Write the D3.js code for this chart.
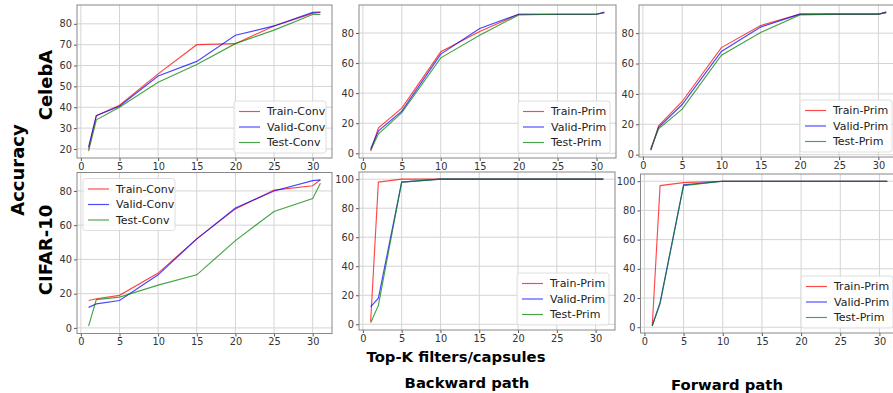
<!DOCTYPE html>
<html>
<head>
<meta charset="utf-8">
<script src="https://cdn.jsdelivr.net/npm/d3@7"></script>
<style>
  html, body { margin: 0; padding: 0; background: #fff; }
  svg text { font-family: "DejaVu Sans", sans-serif; }
</style>
</head>
<body>
<svg id="chart" width="893" height="393"></svg>
<script>
// ── Data ────────────────────────────────────────────────
const topK = [1, 2, 5, 10, 15, 20, 25, 30, 31];

const celebaConvTrain = [20, 36, 41, 56, 70, 70.5, 79, 85, 85.5];
const celebaConvValid = [21, 36, 40.5, 55, 62, 74.5, 79, 85.5, 85.7];
const celebaConvTest  = [19, 34, 40, 52, 60.5, 70.5, 77, 84.5, 84.5];

const celebaBackTrain = [1.5, 17, 30, 67.5, 81, 92.5, 92.5, 92.5, 93.5];
const celebaBackValid = [3, 15, 28, 66, 83, 92.5, 92.5, 92.5, 94];
const celebaBackTest  = [2, 13, 27, 63.5, 78.5, 92, 92.5, 92.5, 93.5];

const celebaFwdTrain = [3, 19, 35, 70.5, 85, 92.5, 92.5, 92.5, 93.5];
const celebaFwdValid = [3, 18, 33, 68, 84, 92.5, 92.5, 92.5, 94];
const celebaFwdTest  = [4, 17, 30, 65.5, 80.5, 92, 92.5, 92.5, 93.5];

const cifarConvTrain = [16, 17, 19, 32, 52, 69.5, 80.5, 83, 86.5];
const cifarConvValid = [12, 14, 16, 31, 52, 70, 80, 86, 86.5];
const cifarConvTest  = [1, 16.5, 18, 25, 31, 51, 68, 75.5, 84.5];

const cifarBackTrain = [2, 98, 100, 100, 100, 100, 100, 100, 100];
const cifarBackValid = [12, 18, 98, 100, 100, 100, 100, 100, 100];
const cifarBackTest  = [1, 13, 98, 100, 100, 100, 100, 100, 100];

const cifarFwdTrain = [1, 97, 99, 100, 100, 100, 100, 100, 100];
const cifarFwdValid = [1, 17, 97.5, 100, 100, 100, 100, 100, 100];
const cifarFwdTest  = [1, 16, 97, 100, 100, 100, 100, 100, 100];

const xTicks = [0, 5, 10, 15, 20, 25, 30];
const yTicksCelebaConv = [20, 30, 40, 50, 60, 70, 80];
const yTicksPrim = [0, 20, 40, 60, 80];
const yTicksPrimFull = [0, 20, 40, 60, 80, 100];

const convNames = ['Train-Conv', 'Valid-Conv', 'Test-Conv'];
const primNames = ['Train-Prim', 'Valid-Prim', 'Test-Prim'];
const lineColors = ['#ff0000', '#0000ff', '#008000'];

// ── Layout ──────────────────────────────────────────────
const panels = [
  { box: [77, 5, 332, 158], series: [celebaConvTrain, celebaConvValid, celebaConvTest], names: convNames, yTicks: yTicksCelebaConv, legend: 'lr' },
  { box: [359, 5, 616, 158], series: [celebaBackTrain, celebaBackValid, celebaBackTest], names: primNames, yTicks: yTicksPrim, legend: 'lr' },
  { box: [639, 5, 898, 157], series: [celebaFwdTrain, celebaFwdValid, celebaFwdTest], names: primNames, yTicks: yTicksPrim, legend: 'lr' },
  { box: [77, 172.5, 332, 333.5], series: [cifarConvTrain, cifarConvValid, cifarConvTest], names: convNames, yTicks: yTicksPrim, legend: 'ul' },
  { box: [359, 172, 615, 330], series: [cifarBackTrain, cifarBackValid, cifarBackTest], names: primNames, yTicks: yTicksPrimFull, legend: 'lr' },
  { box: [640.5, 174, 899, 333], series: [cifarFwdTrain, cifarFwdValid, cifarFwdTest], names: primNames, yTicks: yTicksPrimFull, legend: 'lr' }
];

const svg = d3.select('#chart');

panels.forEach(p => drawPanel(p));

function drawPanel(p) {
  const [x0, y0, x1, y1] = p.box;
  const xExt = d3.extent(topK);
  const xPad = (xExt[1] - xExt[0]) * 0.05;
  const allY = p.series.flat();
  const yExt = d3.extent(allY);
  const yPad = (yExt[1] - yExt[0]) * 0.05;

  const x = d3.scaleLinear().domain([xExt[0] - xPad, xExt[1] + xPad]).range([x0, x1]);
  const y = d3.scaleLinear().domain([yExt[0] - yPad, yExt[1] + yPad]).range([y1, y0]);

  const g = svg.append('g');
  const clipId = 'clip' + Math.round(x0) + '_' + Math.round(y0);
  g.append('clipPath').attr('id', clipId)
    .append('rect').attr('x', x0).attr('y', y0).attr('width', x1 - x0).attr('height', y1 - y0);

  // grid
  g.selectAll('.gx').data(xTicks).enter().append('line')
    .attr('x1', d => x(d)).attr('x2', d => x(d)).attr('y1', y0).attr('y2', y1)
    .attr('stroke', '#d4d4d4').attr('stroke-width', 1);
  g.selectAll('.gy').data(p.yTicks).enter().append('line')
    .attr('x1', x0).attr('x2', x1).attr('y1', d => y(d)).attr('y2', d => y(d))
    .attr('stroke', '#d4d4d4').attr('stroke-width', 1);

  // lines
  const line = d3.line().x((d, i) => x(topK[i])).y(d => y(d));
  p.series.forEach((s, i) => {
    g.append('path').datum(s)
      .attr('clip-path', `url(#${clipId})`)
      .attr('d', line)
      .attr('fill', 'none')
      .attr('stroke', lineColors[i])
      .attr('stroke-opacity', 0.72)
      .attr('stroke-width', 1.15);
  });

  // axes
  const xAxis = g.append('g').attr('transform', `translate(0,${y1})`)
    .call(d3.axisBottom(x).tickValues(xTicks).tickSize(3).tickPadding(2));
  const yAxis = g.append('g').attr('transform', `translate(${x0},0)`)
    .call(d3.axisLeft(y).tickValues(p.yTicks).tickSize(3).tickPadding(2));
  [xAxis, yAxis].forEach(a => {
    a.select('.domain').remove();
    a.selectAll('line').attr('stroke', '#555');
    a.selectAll('text').attr('font-size', '9.8px').attr('fill', '#333')
      .attr('font-family', '"DejaVu Sans", sans-serif');
  });

  // frame
  g.append('rect').attr('x', x0).attr('y', y0).attr('width', x1 - x0).attr('height', y1 - y0)
    .attr('fill', 'none').attr('stroke', '#888').attr('stroke-width', 1);

  // legend
  const lw = 92, lh = 52;
  const lx = p.legend === 'ul' ? x0 + 6 : x1 - lw - 6;
  const ly = p.legend === 'ul' ? y0 + 6 : y1 - lh - 5;
  const lg = g.append('g').attr('transform', `translate(${lx},${ly})`);
  lg.append('rect').attr('width', lw).attr('height', lh).attr('rx', 2.5)
    .attr('fill', '#fff').attr('fill-opacity', 0.8)
    .attr('stroke', '#d6d6d6').attr('stroke-width', 0.8);
  p.names.forEach((n, i) => {
    const yy = 10.5 + i * 15.5;
    lg.append('line').attr('x1', 5).attr('x2', 26).attr('y1', yy).attr('y2', yy)
      .attr('stroke', lineColors[i]).attr('stroke-opacity', 0.72).attr('stroke-width', 1.15);
    lg.append('text').attr('x', 33).attr('y', yy).attr('dy', '0.35em')
      .attr('font-size', '11px').attr('fill', '#222').text(n);
  });
}

// ── Labels ──────────────────────────────────────────────
const bold = sel => sel.attr('font-weight', 'bold').attr('fill', '#000').attr('text-anchor', 'middle');

bold(svg.append('text')).attr('font-size', '18px')
  .attr('transform', 'translate(24,170) rotate(-90)').text('Accuracy');
bold(svg.append('text')).attr('font-size', '18px')
  .attr('transform', 'translate(52,85) rotate(-90)').text('CelebA');
bold(svg.append('text')).attr('font-size', '18px')
  .attr('transform', 'translate(52,250) rotate(-90)').text('CIFAR-10');
bold(svg.append('text')).attr('font-size', '14.8px')
  .attr('x', 456).attr('y', 362).text('Top-K filters/capsules');
bold(svg.append('text')).attr('font-size', '14.8px')
  .attr('x', 467).attr('y', 388).text('Backward path');
bold(svg.append('text')).attr('font-size', '14.8px')
  .attr('x', 727).attr('y', 390).text('Forward path');
</script>
</body>
</html>
